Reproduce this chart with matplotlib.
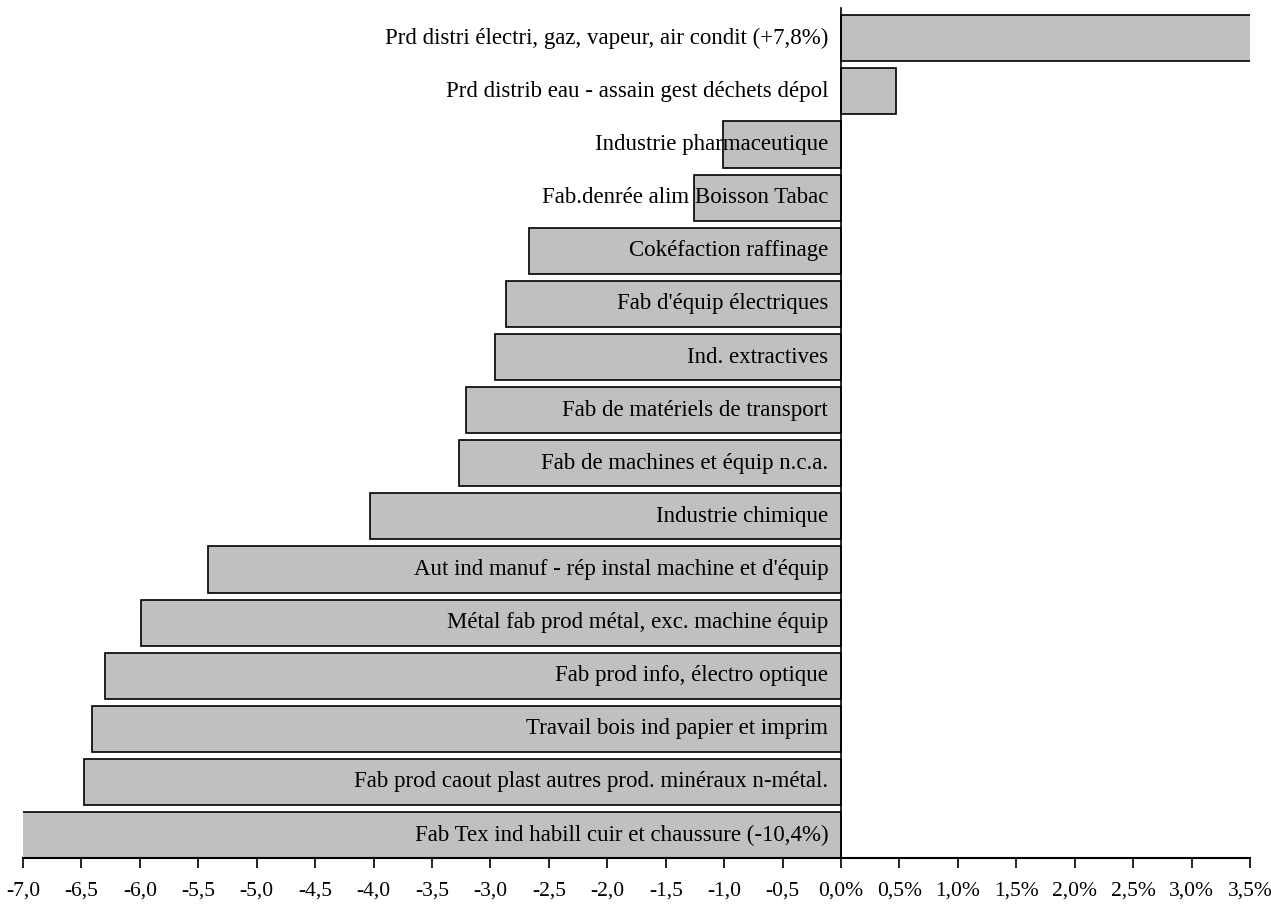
import matplotlib
matplotlib.use('Agg')
import matplotlib.pyplot as plt
import numpy as np

# Data (top to bottom as in the chart)
categories = [
    'Prd distri électri, gaz, vapeur, air condit (+7,8%)',
    'Prd distrib eau - assain gest déchets dépol',
    'Industrie pharmaceutique',
    'Fab.denrée alim Boisson Tabac',
    'Cokéfaction raffinage',
    "Fab d'équip électriques",
    'Ind. extractives',
    'Fab de matériels de transport',
    'Fab de machines et équip n.c.a.',
    'Industrie chimique',
    "Aut ind manuf - rép instal machine et d'équip",
    'Métal fab prod métal, exc. machine équip',
    'Fab prod info, électro optique',
    'Travail bois ind papier et imprim',
    'Fab prod caout plast autres prod. minéraux n-métal.',
    'Fab Tex ind habill cuir et chaussure (-10,4%)',
]
values = [7.8, 0.47, -1.01, -1.26, -2.67, -2.87, -2.96, -3.21, -3.27,
          -4.03, -5.42, -5.99, -6.30, -6.41, -6.48, -10.4]

tick_values = [-7.0, -6.5, -6.0, -5.5, -5.0, -4.5, -4.0, -3.5, -3.0, -2.5, -2.0,
               -1.5, -1.0, -0.5, 0.0, 0.5, 1.0, 1.5, 2.0, 2.5, 3.0, 3.5]
tick_labels = ['-7,0', '-6,5', '-6,0', '-5,5', '-5,0', '-4,5', '-4,0', '-3,5', '-3,0',
               '-2,5', '-2,0', '-1,5', '-1,0', '-0,5', '0,0%', '0,5%', '1,0%', '1,5%',
               '2,0%', '2,5%', '3,0%', '3,5%']

fig = plt.figure(figsize=(12.71, 9.18), dpi=100)
ax = fig.add_axes([0.0181, 0.0654, 0.9654, 0.9259])

n = len(categories)
ypos = np.arange(n)[::-1]
ax.barh(ypos, values, height=0.87, color='#c0c0c0', edgecolor='black',
        linewidth=1.2, zorder=2)

for y, lab in zip(ypos, categories):
    ax.text(-0.11, y, lab, ha='right', va='center', fontsize=16.5,
            family='Liberation Serif', zorder=3)

ax.set_xlim(-7.0, 3.5)
ax.set_ylim(-0.43, n - 0.43)
ax.set_xticks(tick_values)
ax.set_xticklabels(tick_labels, fontsize=15.5, family='Liberation Serif')
ax.set_yticks([])
ax.tick_params(axis='x', direction='out', length=7, width=1.2, pad=10)

ax.spines['top'].set_visible(False)
ax.spines['right'].set_visible(False)
ax.spines['left'].set_position(('data', 0))
ax.spines['left'].set_linewidth(1.2)
ax.spines['bottom'].set_linewidth(1.5)

fig.savefig('out.png', dpi=100)
